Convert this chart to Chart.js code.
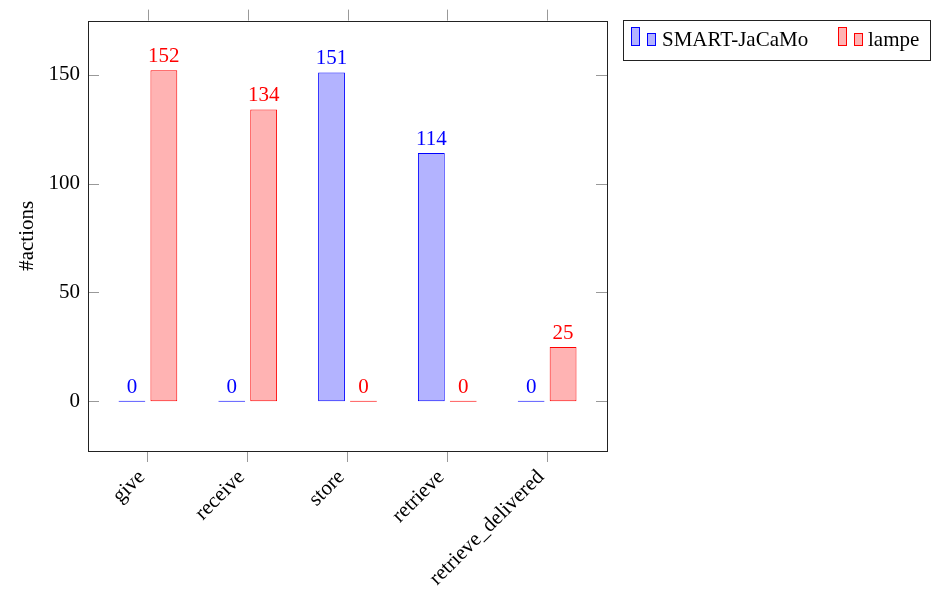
<!DOCTYPE html>
<html>
<head>
<meta charset="utf-8">
<script src="https://cdn.jsdelivr.net/npm/chart.js@4"></script>
<style>
html, body { margin: 0; padding: 0; background: #fff; }
</style>
</head>
<body>
<canvas id="myChart" width="931" height="593"></canvas>
<script>
const categories = ['give', 'receive', 'store', 'retrieve', 'retrieve_delivered'];
const smartJaCaMo = [0, 0, 151, 114, 0];
const lampe = [152, 134, 0, 0, 25];
const yTicks = [0, 50, 100, 150];
const seriesNames = ['SMART-JaCaMo', 'lampe'];

const FONT = 'Liberation Serif';
const BLUE = '#0000ff', BLUE_FILL = '#b3b3ff';
const RED = '#ff0000', RED_FILL = '#ffb3b3';

// value labels on top of the bars
const valueLabels = {
    id: 'valueLabels',
    afterDatasetsDraw(chart) {
        const ctx = chart.ctx;
        const y = chart.scales.y;
        ctx.save();
        ctx.font = `21px "${FONT}"`;
        ctx.textAlign = 'center';
        ctx.textBaseline = 'alphabetic';
        chart.data.datasets.forEach((ds, i) => {
            chart.getDatasetMeta(i).data.forEach((bar, j) => {
                const v = ds.data[j].y;
                ctx.fillStyle = ds.borderColor;
                ctx.fillText(String(v), bar.x, y.getPixelForValue(v) - 8);
            });
        });
        ctx.restore();
    }
};

// frame, mirrored ticks, legend box
const frame = {
    id: 'frame',
    afterDraw(chart) {
        const ctx = chart.ctx;
        const { left, right, top, bottom } = chart.chartArea;
        const x = chart.scales.x, y = chart.scales.y;
        ctx.save();
        ctx.lineWidth = 1;
        ctx.strokeStyle = '#999';
        ctx.beginPath();
        categories.forEach((c, i) => {
            const px = Math.round(x.getPixelForValue(i)) + 0.5;
            ctx.moveTo(px, top - 11);
            ctx.lineTo(px, top);
        });
        yTicks.forEach(t => {
            const py = Math.round(y.getPixelForValue(t)) + 0.5;
            ctx.moveTo(left, py);
            ctx.lineTo(left + 11, py);
            ctx.moveTo(right - 11, py);
            ctx.lineTo(right, py);
        });
        ctx.stroke();

        ctx.strokeStyle = '#222';
        ctx.strokeRect(Math.round(left) + 0.5, Math.round(top) + 0.5, Math.round(right - left), Math.round(bottom - top));

        // legend
        ctx.strokeRect(623.5, 20.5, 307, 40);
        const items = [
            { x: 631, text: seriesNames[0], fill: BLUE_FILL, stroke: BLUE, tx: 662 },
            { x: 838, text: seriesNames[1], fill: RED_FILL, stroke: RED, tx: 868 }
        ];
        ctx.font = `21px "${FONT}"`;
        ctx.textBaseline = 'alphabetic';
        ctx.textAlign = 'left';
        items.forEach(it => {
            ctx.fillStyle = it.fill;
            ctx.strokeStyle = it.stroke;
            ctx.fillRect(it.x, 27, 8, 18);
            ctx.strokeRect(it.x + 0.5, 27.5, 8, 18);
            ctx.fillRect(it.x + 16, 33, 8, 12);
            ctx.strokeRect(it.x + 16.5, 33.5, 8, 12);
            ctx.fillStyle = '#000';
            ctx.fillText(it.text, it.tx, 46);
        });
        ctx.restore();
    }
};

const ctx = document.getElementById('myChart').getContext('2d');
new Chart(ctx, {
    type: 'bar',
    data: {
        datasets: [{
            label: seriesNames[0],
            data: smartJaCaMo.map((v, i) => ({ x: i, y: v })),
            backgroundColor: BLUE_FILL,
            borderColor: BLUE,
            borderWidth: 1,
            borderSkipped: false,
            minBarLength: 1
        }, {
            label: seriesNames[1],
            data: lampe.map((v, i) => ({ x: i, y: v })),
            backgroundColor: RED_FILL,
            borderColor: RED,
            borderWidth: 1,
            borderSkipped: false,
            minBarLength: 1
        }]
    },
    options: {
        responsive: false,
        animation: false,
        devicePixelRatio: 1,
        categoryPercentage: 0.64,
        barPercentage: 0.84,
        layout: { padding: { left: 0, right: 324, top: 20, bottom: 0 } },
        plugins: {
            legend: { display: false },
            tooltip: { enabled: false }
        },
        scales: {
            x: {
                type: 'linear',
                min: -0.6,
                max: 4.6,
                offset: false,
                afterBuildTicks: (s) => { s.ticks = categories.map((c, i) => ({ value: i })); },
                afterFit: (s) => { s.height = 142; },
                grid: { display: true, offset: false, drawOnChartArea: false, drawTicks: true, tickLength: 11, color: '#999' },
                border: { display: false },
                ticks: {
                    callback: (v) => categories[v],
                    minRotation: 45,
                    maxRotation: 45,
                    padding: 3,
                    labelOffset: -6,
                    color: '#000',
                    font: { family: FONT, size: 21 }
                }
            },
            y: {
                min: -22.8,
                max: 174.8,
                afterBuildTicks: (s) => { s.ticks = yTicks.map(v => ({ value: v })); },
                afterFit: (s) => { s.width = 88; },
                grid: { display: false, drawTicks: false },
                border: { display: false },
                ticks: {
                    padding: 8,
                    color: '#000',
                    font: { family: FONT, size: 21 }
                },
                title: {
                    display: true,
                    text: '#actions',
                    color: '#000',
                    font: { family: FONT, size: 21 },
                    padding: { top: 15, bottom: 0 }
                }
            }
        }
    },
    plugins: [valueLabels, frame]
});
</script>
</body>
</html>
